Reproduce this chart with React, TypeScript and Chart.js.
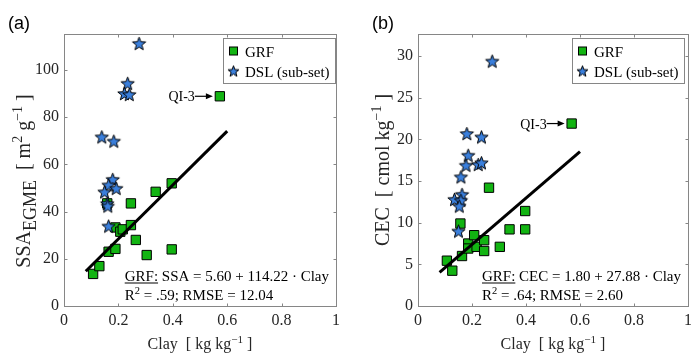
import React, { useEffect, useRef } from "react";
import { Chart, registerables } from "chart.js";
Chart.register(...registerables);

// ---------- data ----------
const xTicks = [0, 0.2, 0.4, 0.6, 0.8, 1];
const xTickLabels = ["0", "0.2", "0.4", "0.6", "0.8", "1"];
const fitRange = [0.08, 0.6];

// panel (a): SSA
const grfClayA = [0.107, 0.13, 0.164, 0.189, 0.189, 0.207, 0.216, 0.246, 0.246, 0.159, 0.264, 0.304, 0.337, 0.396, 0.396, 0.573];
const grfSSA = [13.6, 16.9, 23.0, 24.2, 33.3, 31.5, 32.5, 34.3, 43.5, 43.5, 28.0, 21.6, 48.4, 52.0, 24.0, 88.9];
const dslClayA = [0.276, 0.234, 0.222, 0.24, 0.139, 0.183, 0.179, 0.164, 0.149, 0.192, 0.159, 0.161, 0.164];
const dslSSA = [111.3, 94.4, 90.1, 89.7, 71.7, 69.9, 53.7, 51.3, 48.4, 49.9, 43.5, 42.4, 33.9];
const yTicksA = [0, 20, 40, 60, 80, 100];
const fitA = { intercept: 5.6, slope: 114.22, r2: ".59", rmse: "12.04" };

// panel (b): CEC
const grfClayB = [0.107, 0.127, 0.163, 0.157, 0.186, 0.186, 0.208, 0.217, 0.245, 0.245, 0.263, 0.303, 0.339, 0.397, 0.397, 0.569];
const grfCEC = [5.44, 4.24, 6.0, 9.9, 7.5, 6.9, 8.5, 7.1, 7.9, 6.6, 14.2, 7.1, 9.2, 11.4, 9.2, 21.9];
const dslClayB = [0.275, 0.181, 0.235, 0.186, 0.178, 0.223, 0.235, 0.159, 0.135, 0.163, 0.159, 0.153, 0.15];
const dslCEC = [29.4, 20.7, 20.3, 18.1, 16.9, 17.0, 17.2, 15.5, 12.8, 13.4, 12.7, 12.0, 9.0];
const yTicksB = [0, 5, 10, 15, 20, 25, 30];
const fitB = { intercept: 1.8, slope: 27.88, r2: ".64", rmse: "2.60" };

// ---------- styles ----------
const SERIF = "'Liberation Serif', 'Times New Roman', serif";
const SANS = "'Liberation Sans', Arial, sans-serif";
const GREEN = "#12b412";
const BLUE = "#3a7fdc";
const AXIS = "#868686";
const TXT = "#262626";

type Piece = { t: string; s?: number; dy?: number; u?: boolean };

function richWidth(ctx: CanvasRenderingContext2D, pieces: Piece[], base: number) {
  let w = 0;
  for (const p of pieces) {
    ctx.font = `${base * (p.s || 1)}px ${SERIF}`;
    w += ctx.measureText(p.t).width;
  }
  return w;
}

function drawRich(ctx: CanvasRenderingContext2D, pieces: Piece[], x: number, y: number, base: number, align: "left" | "center" | "right", color: string) {
  const w = richWidth(ctx, pieces, base);
  let cx = align === "left" ? x : align === "center" ? x - w / 2 : x - w;
  ctx.textAlign = "left";
  ctx.textBaseline = "alphabetic";
  ctx.fillStyle = color;
  for (const p of pieces) {
    ctx.font = `${base * (p.s || 1)}px ${SERIF}`;
    const pw = ctx.measureText(p.t).width;
    ctx.fillText(p.t, cx, y + (p.dy || 0));
    if (p.u) {
      ctx.fillRect(cx, y + 2, pw, 1);
    }
    cx += pw;
  }
  return w;
}

function makeStar(outer: number, fill: string) {
  const pad = 1.5;
  const size = Math.ceil(outer * 2 + pad * 2);
  const c = document.createElement("canvas");
  c.width = size;
  c.height = size;
  const g = c.getContext("2d")!;
  const cx = size / 2;
  const cy = size / 2 + outer * 0.1;
  const inner = outer * 0.42;
  g.beginPath();
  for (let i = 0; i < 10; i++) {
    const r = i % 2 ? inner : outer;
    const a = -Math.PI / 2 + (i * Math.PI) / 5;
    g.lineTo(cx + r * Math.cos(a), cy + r * Math.sin(a));
  }
  g.closePath();
  g.fillStyle = fill;
  g.fill();
  g.lineWidth = 1;
  g.strokeStyle = "#000";
  g.lineJoin = "miter";
  g.stroke();
  return c;
}

interface PanelCfg {
  grfX: number[];
  grfY: number[];
  dslX: number[];
  dslY: number[];
  fit: { intercept: number; slope: number; r2: string; rmse: string };
  yVar: string;
  yMax: number;
  yTicks: number[];
  yAxisWidth: number;
  canvasWidth: number;
  padRight: number;
  panelLabel: string;
  panelLabelX: number;
  yTitle: Piece[];
  yTitleX: number;
  yTitleY: number;
  legendInset: number;
}

const xTitle: Piece[] = [{ t: "Clay  [ kg kg" }, { t: "−1", s: 0.7, dy: -6 }, { t: " ]" }];

function decor(p: PanelCfg) {
  return {
    id: "decor",
    beforeDatasetsDraw(chart: any) {
      const { ctx, chartArea: a, scales } = chart;
      const x = scales.x;
      const y = scales.y;
      ctx.save();
      ctx.strokeStyle = AXIS;
      ctx.lineWidth = 1;
      const L = Math.round(a.left) + 0.5;
      const R = Math.round(a.right) + 0.5;
      const T = Math.round(a.top) + 0.5;
      const B = Math.round(a.bottom) + 0.5;
      ctx.strokeRect(L, T, R - L, B - T);
      ctx.beginPath();
      for (const v of xTicks) {
        const px = Math.round(x.getPixelForValue(v)) + 0.5;
        ctx.moveTo(px, B);
        ctx.lineTo(px, B - 3);
        ctx.moveTo(px, T);
        ctx.lineTo(px, T + 3);
      }
      for (const v of p.yTicks) {
        const py = Math.round(y.getPixelForValue(v)) + 0.5;
        ctx.moveTo(L, py);
        ctx.lineTo(L + 3, py);
        ctx.moveTo(R, py);
        ctx.lineTo(R - 3, py);
      }
      ctx.stroke();
      ctx.restore();
    },
    afterDraw(chart: any) {
      const { ctx, chartArea: a, scales } = chart;
      const x = scales.x;
      const y = scales.y;
      ctx.save();
      // panel label
      ctx.font = `18px ${SANS}`;
      ctx.fillStyle = "#000";
      ctx.textAlign = "left";
      ctx.textBaseline = "alphabetic";
      ctx.fillText(p.panelLabel, p.panelLabelX, 29);

      // x title
      drawRich(ctx, xTitle, (a.left + a.right) / 2, 349, 16, "center", TXT);

      // y title (rotated)
      ctx.save();
      ctx.translate(p.yTitleX, p.yTitleY);
      ctx.rotate(-Math.PI / 2);
      drawRich(ctx, p.yTitle, 0, 0, 20, "center", TXT);
      ctx.restore();

      // QI-3 annotation at the highest-clay GRF sample
      let qi = 0;
      p.grfX.forEach((v, i) => {
        if (v > p.grfX[qi]) qi = i;
      });
      const qx = x.getPixelForValue(p.grfX[qi]);
      const qy = y.getPixelForValue(p.grfY[qi]);
      ctx.strokeStyle = "#000";
      ctx.fillStyle = "#000";
      ctx.lineWidth = 1.2;
      ctx.beginPath();
      ctx.moveTo(qx - 25, qy);
      ctx.lineTo(qx - 12, qy);
      ctx.stroke();
      ctx.beginPath();
      ctx.moveTo(qx - 7, qy);
      ctx.lineTo(qx - 14, qy - 3);
      ctx.lineTo(qx - 14, qy + 3);
      ctx.closePath();
      ctx.fill();
      ctx.font = `14px ${SERIF}`;
      ctx.textAlign = "right";
      ctx.fillText("QI-3", qx - 25, qy + 5);

      // equation text
      const fmt = (v: number) => v.toFixed(2);
      const line1: Piece[] = [
        { t: "GRF:", u: true },
        { t: ` ${p.yVar} = ${fmt(p.fit.intercept)} + ${fmt(p.fit.slope)} · Clay` },
      ];
      const line2: Piece[] = [{ t: "R" }, { t: "2", s: 0.7, dy: -6 }, { t: ` = ${p.fit.r2}; RMSE = ${p.fit.rmse}` }];
      const w1 = richWidth(ctx, line1, 15);
      const sx = a.right - 7 - w1;
      drawRich(ctx, line1, sx, 280.5, 15, "left", "#000");
      drawRich(ctx, line2, sx, 300, 15, "left", "#000");

      // legend
      const lw = 112;
      const lh = 45;
      const lx = Math.round(a.right - p.legendInset - lw) + 0.5;
      const ly = Math.round(a.top + 4) + 0.5;
      ctx.fillStyle = "#fff";
      ctx.fillRect(lx, ly, lw, lh);
      ctx.strokeStyle = AXIS;
      ctx.lineWidth = 1;
      ctx.strokeRect(lx, ly, lw, lh);
      // square
      ctx.fillStyle = GREEN;
      ctx.strokeStyle = "#000";
      ctx.fillRect(lx + 6, ly + 8.5, 8, 8);
      ctx.strokeRect(lx + 6, ly + 8.5, 8, 8);
      const ls = makeStar(5.8, BLUE);
      ctx.drawImage(ls, lx + 10 - ls.width / 2, ly + 32.5 - ls.height / 2);
      ctx.font = `15px ${SERIF}`;
      ctx.fillStyle = "#000";
      ctx.textAlign = "left";
      ctx.fillText("GRF", lx + 21.5, ly + 18);
      ctx.fillText("DSL (sub-set)", lx + 21.5, ly + 38);
      ctx.restore();
    },
  };
}

function buildConfig(p: PanelCfg): any {
  const star = makeStar(7, BLUE);
  const fitData = fitRange.map((cx) => ({ x: cx, y: p.fit.intercept + p.fit.slope * cx }));
  const tickFont = { family: SERIF, size: 16 };
  return {
    type: "scatter",
    data: {
      datasets: [
        { type: "line", data: fitData, showLine: true, borderColor: "#000", borderWidth: 3, pointRadius: 0, fill: false },
        {
          data: p.dslX.map((v, i) => ({ x: v, y: p.dslY[i] })),
          pointStyle: star,
          pointRadius: 7,
          backgroundColor: BLUE,
          borderColor: "#000",
        },
        {
          data: p.grfX.map((v, i) => ({ x: v, y: p.grfY[i] })),
          pointStyle: "rect",
          pointRadius: 6.6,
          backgroundColor: GREEN,
          borderColor: "#000",
          borderWidth: 1,
        },
      ],
    },
    options: {
      animation: false,
      responsive: false,
      maintainAspectRatio: false,
      events: [],
      layout: { padding: { left: 0, right: p.padRight, top: 34, bottom: 0 } },
      plugins: { legend: { display: false }, tooltip: { enabled: false } },
      scales: {
        x: {
          type: "linear",
          min: 0,
          max: 1,
          afterBuildTicks: (s: any) => {
            s.ticks = xTicks.map((v) => ({ value: v }));
          },
          afterFit: (s: any) => {
            s.height = 50;
          },
          ticks: {
            font: tickFont,
            color: TXT,
            padding: 5,
            maxRotation: 0,
            autoSkip: false,
            callback: (_v: any, i: number) => xTickLabels[i],
          },
          grid: { display: false, drawTicks: false },
          border: { display: false },
        },
        y: {
          type: "linear",
          min: 0,
          max: p.yMax,
          afterBuildTicks: (s: any) => {
            s.ticks = p.yTicks.map((v) => ({ value: v }));
          },
          afterFit: (s: any) => {
            s.width = p.yAxisWidth;
          },
          ticks: {
            font: tickFont,
            color: TXT,
            padding: 5,
            autoSkip: false,
            callback: (_v: any, i: number) => String(p.yTicks[i]),
          },
          grid: { display: false, drawTicks: false },
          border: { display: false },
        },
      },
    },
    plugins: [decor(p)],
  };
}

const panelA: PanelCfg = {
  grfX: grfClayA,
  grfY: grfSSA,
  dslX: dslClayA,
  dslY: dslSSA,
  fit: fitA,
  yVar: "SSA",
  yMax: 115.3,
  yTicks: yTicksA,
  yAxisWidth: 64,
  canvasWidth: 345,
  padRight: 6,
  panelLabel: "(a)",
  panelLabelX: 8,
  yTitle: [
    { t: "SSA" },
    { t: "EGME", s: 0.9, dy: 6 },
    { t: "  [ m" },
    { t: "2", s: 0.7, dy: -8 },
    { t: " g" },
    { t: "−1", s: 0.7, dy: -8 },
    { t: " ]" },
  ],
  yTitleX: 30,
  yTitleY: 181,
  legendInset: 1,
};

const panelB: PanelCfg = {
  grfX: grfClayB,
  grfY: grfCEC,
  dslX: dslClayB,
  dslY: dslCEC,
  fit: fitB,
  yVar: "CEC",
  yMax: 32.65,
  yTicks: yTicksB,
  yAxisWidth: 73,
  canvasWidth: 352,
  padRight: 5,
  panelLabel: "(b)",
  panelLabelX: 27,
  yTitle: [{ t: "CEC  [ cmol kg" }, { t: "−1", s: 0.7, dy: -8 }, { t: " ]" }],
  yTitleX: 44,
  yTitleY: 170,
  legendInset: 4,
};

function Panel({ cfg, left }: { cfg: PanelCfg; left: number }) {
  const ref = useRef<HTMLCanvasElement>(null);
  useEffect(() => {
    const chart = new Chart(ref.current!, buildConfig(cfg));
    return () => chart.destroy();
  }, [cfg]);
  return (
    <canvas
      ref={ref}
      width={cfg.canvasWidth}
      height={356}
      style={{ position: "absolute", left, top: 0, width: cfg.canvasWidth, height: 356 }}
    />
  );
}

export default function App() {
  return (
    <div
      style={{
        position: "fixed",
        left: 0,
        top: 0,
        width: 691,
        height: 356,
        overflow: "hidden",
        background: "#fff",
      }}
    >
      <Panel cfg={panelA} left={0} />
      <Panel cfg={panelB} left={345} />
    </div>
  );
}
